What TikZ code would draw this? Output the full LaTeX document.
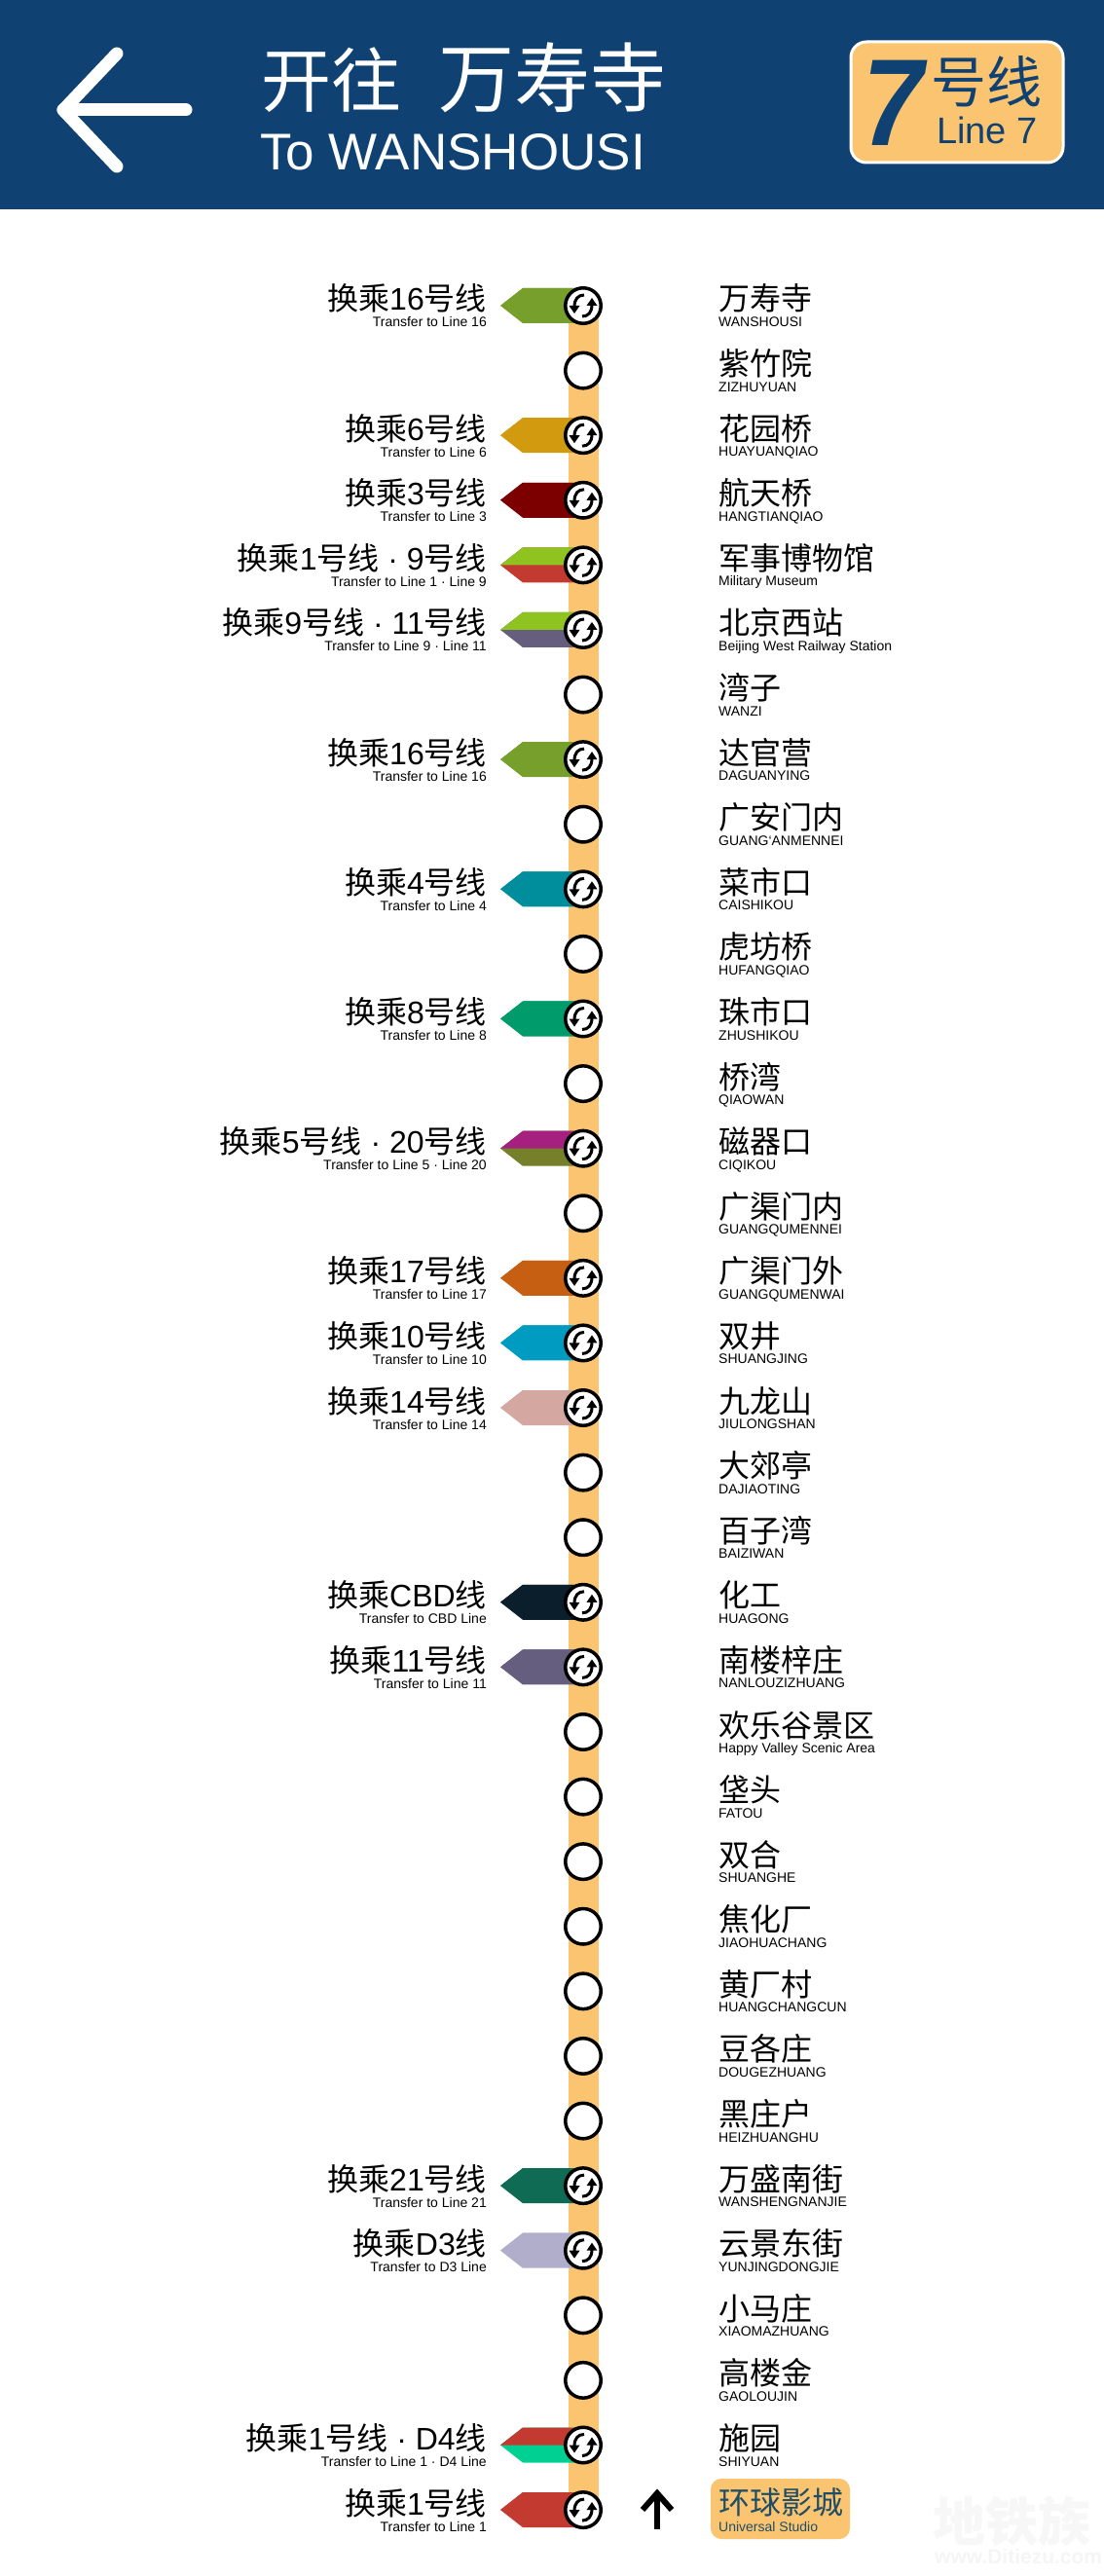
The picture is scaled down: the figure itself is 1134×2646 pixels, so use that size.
\documentclass[tikz,border=0pt]{standalone}
\usepackage{fontspec}
\setmainfont{Liberation Sans}
\newfontfamily\cjk{Noto Sans CJK SC}
\newcommand{\hz}[1]{{\cjk #1}}
\newcommand{\fs}[1]{\fontsize{#1}{#1}\selectfont}
\definecolor{hdr}{HTML}{0F4273}
\definecolor{trunk}{HTML}{FBC470}
\definecolor{uni}{HTML}{1F4E66}
\definecolor{lA}{HTML}{769F2C}
\definecolor{lB}{HTML}{D29A0E}
\definecolor{lC}{HTML}{7D0000}
\definecolor{lD}{HTML}{C23A30}
\definecolor{lE}{HTML}{8FC31F}
\definecolor{lF}{HTML}{665E7E}
\definecolor{lG}{HTML}{008E9C}
\definecolor{lH}{HTML}{009B6B}
\definecolor{lI}{HTML}{A6217F}
\definecolor{lJ}{HTML}{767F2A}
\definecolor{lK}{HTML}{C75F12}
\definecolor{lL}{HTML}{009BC0}
\definecolor{lM}{HTML}{D5A7A1}
\definecolor{lN}{HTML}{0A1E2C}
\definecolor{lO}{HTML}{0F6B54}
\definecolor{lP}{HTML}{B0AECB}
\definecolor{lQ}{HTML}{00D193}
\pgfdeclarelayer{bg}
\pgfdeclarelayer{tagl}
\pgfsetlayers{bg,tagl,main}
\tikzset{
  x=1pt,y=-1pt,
  stop/.style={circle,draw=black,fill=white,line width=3.5pt,minimum size=36.5pt,inner sep=0pt},
  trunkline/.style={draw=trunk,line width=31pt},
  cnleft/.style={font=\fs{32},anchor=base east,inner sep=0pt},
  enleft/.style={font=\fs{14},anchor=base east,inner sep=0pt},
  cnright/.style={font=\cjk\fs{32},anchor=base west,inner sep=0pt},
  enright/.style={font=\fs{14},anchor=base west,inner sep=0pt},
  whitearrow/.style={draw=white,line width=13pt,line cap=round,line join=round},
  uparrow/.style={draw=black,line width=6pt,line join=miter},
  xfer/.pic={
    \draw[line width=3pt] (1,-11) .. controls (-5,-11) and (-9,-7) .. (-9,1);
    \fill (-14.5,0) -- (-3.5,0) -- (-9,8) -- cycle;
    \draw[line width=3pt] (-1,11) .. controls (5,11) and (9,7) .. (9,-1);
    \fill (14.5,0) -- (3.5,0) -- (9,-8) -- cycle;
  }
}
\begin{document}
\begin{tikzpicture}
\useasboundingbox (0,0) rectangle (1134,2646);
\begin{pgfonlayer}{bg}
\fill[white] (0,0) rectangle (1134,2646);
\end{pgfonlayer}
% header
\fill[hdr] (0,0) rectangle (1134,215);
\coordinate (ha) at (120,55);
\coordinate (hb) at (65,113);
\coordinate (hc) at (120,171);
\coordinate (hd) at (191,113);
\draw[whitearrow] (ha) -- (hb) -- (hc);
\draw[whitearrow] (hb) -- (hd);
\node[font=\cjk\fs{72},text=white,anchor=base west,inner sep=0pt] (htitle) at (268,110) {开往};
\node[font=\cjk\fs{78},text=white,anchor=base west,inner sep=0pt] (hdest) at (450,110) {万寿寺};
\node[font=\fs{53},text=white,anchor=base west,inner sep=0pt] (hen) at (267,175) {To WANSHOUSI};
\node[draw=white,fill=trunk,line width=3pt,rounded corners=16pt,minimum width=218pt,minimum height=124pt,inner sep=0pt] (badge) at (983,105) {};
\node[font=\bfseries\itshape\fs{127},text=hdr,anchor=base west,inner sep=0pt,xscale=0.88] (bseven) at (886,150) {7};
\node[font=\cjk\fs{57},text=hdr,anchor=base west,inner sep=0pt] (bhao) at (956,106) {号线};
\node[font=\fs{38},text=hdr,anchor=base west,inner sep=0pt] (bline) at (962,148) {Line 7};
% stops
\foreach \i in {0,...,34}{
  \pgfmathsetmacro{\yy}{314+\i*66.59}
  \node[stop] (s\i) at (599,\yy) {};
}
\begin{pgfonlayer}{bg}
\draw[trunkline] (s0.center) -- (s34.center);
\end{pgfonlayer}
% universal studio badge
\begin{pgfonlayer}{bg}
\node[fill=trunk,rounded corners=11pt,minimum width=143pt,minimum height=62pt,inner sep=0pt] (unibox) at (801.5,2577) {};
\end{pgfonlayer}
% station names
\foreach \i/\cn/\en in {
0/万寿寺/WANSHOUSI,1/紫竹院/ZIZHUYUAN,2/花园桥/HUAYUANQIAO,3/航天桥/HANGTIANQIAO,
4/军事博物馆/Military Museum,5/北京西站/Beijing West Railway Station,6/湾子/WANZI,7/达官营/DAGUANYING,
8/广安门内/GUANG`ANMENNEI,9/菜市口/CAISHIKOU,10/虎坊桥/HUFANGQIAO,11/珠市口/ZHUSHIKOU,
12/桥湾/QIAOWAN,13/磁器口/CIQIKOU,14/广渠门内/GUANGQUMENNEI,15/广渠门外/GUANGQUMENWAI,
16/双井/SHUANGJING,17/九龙山/JIULONGSHAN,18/大郊亭/DAJIAOTING,19/百子湾/BAIZIWAN,
20/化工/HUAGONG,21/南楼梓庄/NANLOUZIZHUANG,22/欢乐谷景区/Happy Valley Scenic Area,23/垡头/FATOU,
24/双合/SHUANGHE,25/焦化厂/JIAOHUACHANG,26/黄厂村/HUANGCHANGCUN,27/豆各庄/DOUGEZHUANG,
28/黑庄户/HEIZHUANGHU,29/万盛南街/WANSHENGNANJIE,30/云景东街/YUNJINGDONGJIE,31/小马庄/XIAOMAZHUANG,
32/高楼金/GAOLOUJIN,33/施园/SHIYUAN}{
  \pgfmathsetmacro{\yy}{314+\i*66.59}
  \node[cnright] (c\i) at (738,\yy+5) {\cn};
  \node[enright] (e\i) at (738,\yy+21.5) {\en};
}
\node[cnright,text=uni] (c34) at (738,2582) {环球影城};
\node[enright,text=uni] (e34) at (738,2600) {Universal Studio};
% up arrow
\coordinate (ub) at (675,2598);
\coordinate (ut) at (675,2561);
\coordinate (ul) at (660,2578);
\coordinate (ur) at (690,2578);
\draw[uparrow] (ub) -- (ut);
\draw[uparrow] (ul) -- (ut) -- (ur);
% transfers
\foreach \i/\cn/\en/\ca/\cb in {
0/{\hz{换乘}16\hz{号线}}/Transfer to Line 16/lA/lA,
2/{\hz{换乘}6\hz{号线}}/Transfer to Line 6/lB/lB,
3/{\hz{换乘}3\hz{号线}}/Transfer to Line 3/lC/lC,
4/{\hz{换乘}1\hz{号线} · 9\hz{号线}}/{Transfer to Line 1 · Line 9}/lE/lD,
5/{\hz{换乘}9\hz{号线} · 11\hz{号线}}/{Transfer to Line 9 · Line 11}/lE/lF,
7/{\hz{换乘}16\hz{号线}}/Transfer to Line 16/lA/lA,
9/{\hz{换乘}4\hz{号线}}/Transfer to Line 4/lG/lG,
11/{\hz{换乘}8\hz{号线}}/Transfer to Line 8/lH/lH,
13/{\hz{换乘}5\hz{号线} · 20\hz{号线}}/{Transfer to Line 5 · Line 20}/lI/lJ,
15/{\hz{换乘}17\hz{号线}}/Transfer to Line 17/lK/lK,
16/{\hz{换乘}10\hz{号线}}/Transfer to Line 10/lL/lL,
17/{\hz{换乘}14\hz{号线}}/Transfer to Line 14/lM/lM,
20/{\hz{换乘}CBD\hz{线}}/Transfer to CBD Line/lN/lN,
21/{\hz{换乘}11\hz{号线}}/Transfer to Line 11/lF/lF,
29/{\hz{换乘}21\hz{号线}}/Transfer to Line 21/lO/lO,
30/{\hz{换乘}D3\hz{线}}/Transfer to D3 Line/lP/lP,
33/{\hz{换乘}1\hz{号线} · D4\hz{线}}/{Transfer to Line 1 · D4 Line}/lD/lQ,
34/{\hz{换乘}1\hz{号线}}/Transfer to Line 1/lD/lD}{
  \pgfmathsetmacro{\yy}{314+\i*66.59}
  \begin{pgfonlayer}{tagl}
  \fill[\cb] (514,\yy) -- (537,\yy-18) -- (599,\yy-18) -- (599,\yy+18) -- (537,\yy+18) -- cycle;
  \fill[\ca] (514,\yy) -- (537,\yy-18) -- (599,\yy-18) -- (599,\yy) -- cycle;
  \end{pgfonlayer}
  \node[cnleft] (tc\i) at (500,\yy+5) {\cn};
  \node[enleft] (te\i) at (500,\yy+22) {\en};
  \pic at (s\i) {xfer};
}
% watermark
\node[font=\cjk\bfseries\fs{54},text=black!3,anchor=base west,inner sep=0pt] (wm) at (958,2610) {地铁族};
\node[font=\bfseries\fs{21},text=black!4,anchor=base west,inner sep=0pt] (wmurl) at (960,2633) {www.Ditiezu.com};
\end{tikzpicture}
\end{document}
